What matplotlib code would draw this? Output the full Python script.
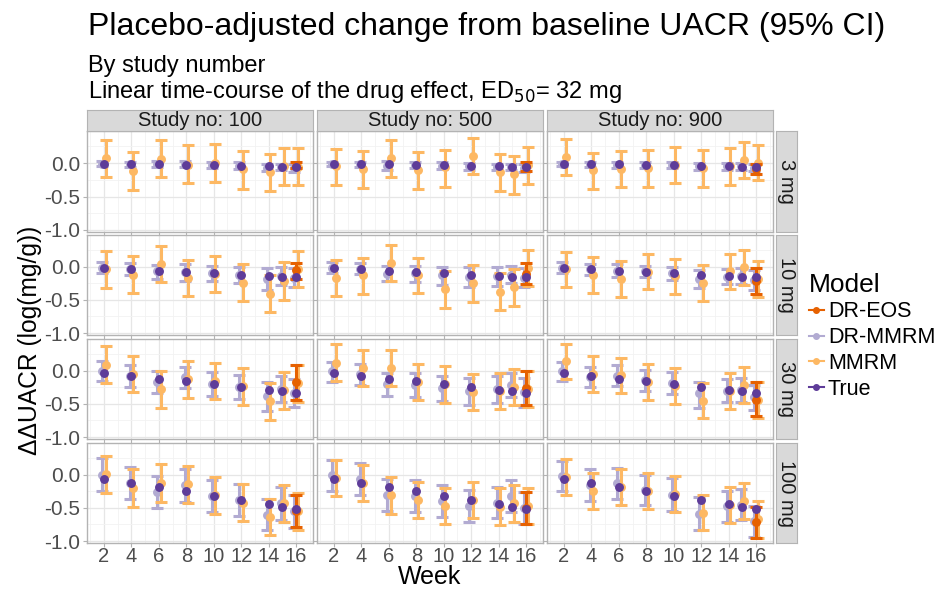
import numpy as np
import matplotlib
matplotlib.use("Agg")
import matplotlib.pyplot as plt
from matplotlib.lines import Line2D

plt.rcParams['font.family'] = ['Liberation Sans', 'DejaVu Sans']

# ---- data ----
weeks = [2, 4, 6, 8, 10, 12, 14, 15, 16]
studies = ["100", "500", "900"]
doses = ["3 mg", "10 mg", "30 mg", "100 mg"]

true_vals = {
    "3 mg":   [-0.01, -0.015, -0.02, -0.03, -0.035, -0.04, -0.05, -0.055, -0.06],
    "10 mg":  [-0.02, -0.04, -0.06, -0.08, -0.10, -0.12, -0.14, -0.15, -0.16],
    "30 mg":  [-0.04, -0.08, -0.12, -0.16, -0.20, -0.25, -0.29, -0.31, -0.33],
    "100 mg": [-0.06, -0.13, -0.19, -0.25, -0.32, -0.38, -0.44, -0.48, -0.51],
}

# MMRM: estimate / lower / upper, one list per study (100, 500, 900)
mmrm_est = {
    "3 mg": [[0.07, -0.12, 0.065, -0.03, 0.0, -0.09, -0.14, -0.045, -0.055],
             [-0.05, -0.095, 0.075, -0.10, -0.065, 0.10, -0.13, -0.17, -0.035],
             [0.085, -0.11, -0.09, -0.075, -0.025, -0.075, -0.05, 0.04, 0.005]],
    "10 mg": [[-0.04, -0.12, 0.045, -0.165, -0.105, -0.24, -0.41, -0.21, -0.035],
              [-0.165, -0.13, 0.06, -0.13, -0.34, -0.25, -0.38, -0.31, -0.015],
              [-0.035, -0.12, -0.19, -0.075, -0.145, -0.25, -0.065, -0.005, -0.18]],
    "30 mg": [[0.085, -0.05, -0.28, -0.13, -0.16, -0.23, -0.46, -0.29, -0.19],
              [0.125, 0.04, 0.04, -0.165, -0.205, -0.32, -0.30, -0.24, -0.27],
              [0.145, -0.05, -0.07, -0.17, -0.23, -0.45, -0.30, -0.21, -0.44]],
    "100 mg": [[0.005, -0.20, -0.125, -0.14, -0.31, -0.42, -0.63, -0.43, -0.55],
               [-0.045, -0.125, -0.31, -0.38, -0.47, -0.38, -0.48, -0.43, -0.47],
               [-0.03, -0.24, -0.19, -0.24, -0.29, -0.57, -0.45, -0.39, -0.67]],
}
mmrm_lo = {
    "3 mg": [[-0.21, -0.40, -0.21, -0.29, -0.28, -0.38, -0.42, -0.32, -0.33],
             [-0.33, -0.37, -0.21, -0.38, -0.35, -0.17, -0.41, -0.46, -0.31],
             [-0.18, -0.39, -0.36, -0.35, -0.30, -0.35, -0.32, -0.23, -0.26]],
    "10 mg": [[-0.32, -0.40, -0.23, -0.44, -0.38, -0.52, -0.69, -0.50, -0.31],
              [-0.44, -0.41, -0.21, -0.40, -0.62, -0.53, -0.66, -0.59, -0.29],
              [-0.30, -0.39, -0.46, -0.34, -0.41, -0.52, -0.33, -0.27, -0.45]],
    "30 mg": [[-0.19, -0.32, -0.56, -0.41, -0.43, -0.51, -0.74, -0.57, -0.47],
              [-0.15, -0.235, -0.235, -0.44, -0.48, -0.59, -0.58, -0.51, -0.55],
              [-0.125, -0.32, -0.34, -0.44, -0.50, -0.72, -0.57, -0.48, -0.71]],
    "100 mg": [[-0.27, -0.48, -0.41, -0.42, -0.59, -0.70, -0.91, -0.71, -0.83],
               [-0.32, -0.40, -0.59, -0.66, -0.75, -0.66, -0.76, -0.71, -0.75],
               [-0.30, -0.51, -0.46, -0.51, -0.56, -0.84, -0.73, -0.67, -0.95]],
}
mmrm_hi = {
    "3 mg": [[0.34, 0.16, 0.34, 0.27, 0.28, 0.18, 0.13, 0.23, 0.22],
             [0.21, 0.18, 0.34, 0.17, 0.20, 0.37, 0.14, 0.10, 0.24],
             [0.36, 0.15, 0.18, 0.19, 0.24, 0.19, 0.22, 0.31, 0.27]],
    "10 mg": [[0.24, 0.16, 0.32, 0.11, 0.17, 0.045, -0.13, 0.07, 0.24],
              [0.11, 0.14, 0.33, 0.14, -0.07, 0.02, -0.10, -0.035, 0.26],
              [0.23, 0.15, 0.08, 0.19, 0.12, 0.02, 0.20, 0.26, 0.09]],
    "30 mg": [[0.37, 0.23, -0.005, 0.145, 0.12, 0.045, -0.185, -0.015, 0.09],
              [0.40, 0.31, 0.31, 0.11, 0.07, -0.045, -0.035, 0.03, 0.0],
              [0.41, 0.22, 0.20, 0.10, 0.04, -0.185, -0.03, 0.06, -0.17]],
    "100 mg": [[0.28, 0.08, 0.16, 0.14, -0.03, -0.14, -0.36, -0.15, -0.27],
               [0.23, 0.155, -0.035, -0.105, -0.195, -0.105, -0.205, -0.15, -0.195],
               [0.245, 0.03, 0.08, 0.03, -0.02, -0.30, -0.18, -0.125, -0.40]],
}

# DR-MMRM
drmmrm_est = {
    "3 mg": [[-0.01, -0.02, -0.02, -0.02, -0.03, -0.04, -0.07, -0.06, -0.07],
             [-0.015, -0.02, -0.04, -0.03, -0.04, -0.05, -0.06, -0.06, -0.07],
             [-0.01, -0.02, -0.03, -0.03, -0.03, -0.05, -0.05, -0.05, -0.07]],
    "10 mg": [[-0.015, -0.04, -0.065, -0.085, -0.10, -0.12, -0.19, -0.135, -0.165],
              [-0.015, -0.03, -0.105, -0.10, -0.12, -0.16, -0.145, -0.12, -0.165],
              [-0.015, -0.04, -0.06, -0.07, -0.095, -0.185, -0.15, -0.145, -0.20]],
    "30 mg": [[0.0, -0.08, -0.17, -0.10, -0.20, -0.245, -0.38, -0.275, -0.335],
              [-0.01, -0.05, -0.205, -0.215, -0.265, -0.31, -0.28, -0.215, -0.325],
              [-0.01, -0.095, -0.075, -0.145, -0.185, -0.34, -0.30, -0.285, -0.40]],
    "100 mg": [[0.0, -0.13, -0.26, -0.16, -0.32, -0.38, -0.60, -0.43, -0.55],
               [-0.005, -0.06, -0.31, -0.32, -0.40, -0.47, -0.42, -0.32, -0.50],
               [-0.02, -0.16, -0.13, -0.235, -0.30, -0.59, -0.47, -0.45, -0.70]],
}
drmmrm_lo = {
    "3 mg": [[-0.045, -0.06, -0.065, -0.065, -0.08, -0.09, -0.12, -0.11, -0.13],
             [-0.05, -0.06, -0.11, -0.07, -0.09, -0.10, -0.11, -0.11, -0.13],
             [-0.045, -0.055, -0.07, -0.07, -0.075, -0.10, -0.10, -0.10, -0.12]],
    "10 mg": [[-0.09, -0.13, -0.19, -0.22, -0.21, -0.24, -0.35, -0.27, -0.31],
              [-0.095, -0.115, -0.22, -0.23, -0.27, -0.31, -0.29, -0.25, -0.31],
              [-0.095, -0.125, -0.155, -0.16, -0.195, -0.32, -0.26, -0.26, -0.35]],
    "30 mg": [[-0.155, -0.245, -0.33, -0.26, -0.38, -0.43, -0.60, -0.47, -0.55],
              [-0.165, -0.215, -0.38, -0.39, -0.45, -0.51, -0.48, -0.39, -0.54],
              [-0.16, -0.25, -0.23, -0.30, -0.345, -0.56, -0.47, -0.47, -0.59]],
    "100 mg": [[-0.245, -0.37, -0.50, -0.41, -0.56, -0.62, -0.84, -0.68, -0.80],
               [-0.245, -0.30, -0.55, -0.56, -0.64, -0.71, -0.66, -0.56, -0.74],
               [-0.25, -0.40, -0.36, -0.46, -0.54, -0.83, -0.71, -0.68, -0.94]],
}
drmmrm_hi = {
    "3 mg": [[0.025, 0.02, 0.025, 0.025, 0.02, 0.01, -0.02, -0.01, -0.01],
             [0.02, 0.02, 0.025, 0.01, 0.01, 0.0, -0.01, -0.01, -0.01],
             [0.02, 0.015, 0.01, 0.01, 0.01, 0.0, 0.0, 0.0, -0.02]],
    "10 mg": [[0.075, 0.05, 0.025, 0.04, 0.015, 0.0, -0.025, 0.0, -0.025],
              [0.07, 0.055, 0.01, 0.015, -0.005, -0.005, -0.005, 0.015, -0.015],
              [0.07, 0.04, 0.035, 0.015, 0.0, -0.05, -0.03, -0.02, -0.05]],
    "30 mg": [[0.155, 0.08, 0.0, 0.055, -0.025, -0.06, -0.17, -0.085, -0.12],
              [0.14, 0.11, -0.03, -0.04, -0.075, -0.105, -0.08, -0.035, -0.115],
              [0.14, 0.06, 0.08, 0.01, -0.025, -0.175, -0.125, -0.105, -0.215]],
    "100 mg": [[0.25, 0.115, -0.02, 0.085, -0.075, -0.145, -0.36, -0.19, -0.30],
               [0.23, 0.175, -0.07, -0.075, -0.16, -0.225, -0.18, -0.08, -0.26],
               [0.215, 0.08, 0.11, 0.0, -0.055, -0.34, -0.24, -0.21, -0.47]],
}

# DR-EOS: only at end of study (week 16), per study
dreos_est = {"3 mg": [-0.04, -0.05, -0.09], "10 mg": [-0.055, -0.105, -0.22],
             "30 mg": [-0.175, -0.26, -0.44], "100 mg": [-0.54, -0.50, -0.715]}
dreos_lo = {"3 mg": [-0.08, -0.12, -0.17], "10 mg": [-0.19, -0.26, -0.41],
            "30 mg": [-0.44, -0.52, -0.69], "100 mg": [-0.79, -0.74, -0.95]}
dreos_hi = {"3 mg": [0.01, 0.015, -0.015], "10 mg": [0.06, 0.055, -0.025],
            "30 mg": [0.09, 0.0, -0.175], "100 mg": [-0.30, -0.26, -0.48]}

col_eos = "#E66101"
col_drm = "#B2ABD2"
col_mmrm = "#FDB863"
col_true = "#5E3C99"

W, H = 940, 590
fig = plt.figure(figsize=(W / 100, H / 100), dpi=100)


def rect(x0, y0, x1, y1):
    return [x0 / W, 1 - y1 / H, (x1 - x0) / W, (y1 - y0) / H]


cols_px = [(87, 313), (317, 543), (547, 773)]
rows_px = [(131, 232), (235, 335), (339, 439), (443, 543)]
wk = np.array(weeks, dtype=float)


def ebar(ax, x, est, lo, hi, color, z):
    est = np.asarray(est); lo = np.asarray(lo); hi = np.asarray(hi)
    ax.errorbar(x, est, yerr=[est - lo, hi - est], fmt='o', color=color,
                ms=5.4, capsize=4, elinewidth=2.2, capthick=2.2, zorder=z)


for r, dose in enumerate(doses):
    for c, st in enumerate(studies):
        ax = fig.add_axes(rect(cols_px[c][0], rows_px[r][0], cols_px[c][1], rows_px[r][1]))
        ebar(ax, wk - 0.12, drmmrm_est[dose][c], drmmrm_lo[dose][c], drmmrm_hi[dose][c], col_drm, 3)
        ebar(ax, wk + 0.12, mmrm_est[dose][c], mmrm_lo[dose][c], mmrm_hi[dose][c], col_mmrm, 4)
        ebar(ax, [16.0], [dreos_est[dose][c]], [dreos_lo[dose][c]], [dreos_hi[dose][c]], col_eos, 5)
        ax.plot(wk, true_vals[dose], 'o', color=col_true, ms=5.4, zorder=6)

        ax.set_xlim(0.76, 17.24)
        ax.set_ylim(-1.03, 0.48)
        ax.set_xticks(range(2, 17, 2))
        ax.set_xticks(range(1, 18, 2), minor=True)
        ax.set_yticks([0.0, -0.5, -1.0])
        ax.set_yticks([0.25, -0.25, -0.75], minor=True)
        ax.grid(True, which='major', color='#E6E6E6', lw=0.9, zorder=0)
        ax.grid(True, which='minor', color='#F2F2F2', lw=0.6, zorder=0)
        ax.set_axisbelow(True)
        for s in ax.spines.values():
            s.set_color('#B3B3B3')
            s.set_linewidth(1.0)
        ax.tick_params(which='minor', length=0)
        ax.tick_params(which='major', length=3, color='#B3B3B3', labelsize=15,
                       labelcolor='#4D4D4D', pad=2)
        if c == 0:
            ax.set_yticklabels(["0.0", "-0.5", "-1.0"])
        else:
            ax.tick_params(axis='y', labelleft=False)
        if r == len(doses) - 1:
            ax.set_xticklabels([str(w) for w in range(2, 17, 2)])
            ax.tick_params(axis='x', pad=0, labelsize=14.5)
        else:
            ax.tick_params(axis='x', labelbottom=False)

        if r == 0:
            sax = fig.add_axes(rect(cols_px[c][0], 110, cols_px[c][1], 131))
            sax.set_facecolor('#D9D9D9')
            sax.set_xticks([]); sax.set_yticks([])
            for s in sax.spines.values():
                s.set_color('#B3B3B3')
            sax.text(0.5, 0.5, "Study no: " + st, ha='center', va='center',
                     fontsize=14.5, color='#1A1A1A', transform=sax.transAxes)
        if c == len(studies) - 1:
            sax = fig.add_axes(rect(776, rows_px[r][0], 797, rows_px[r][1]))
            sax.set_facecolor('#D9D9D9')
            sax.set_xticks([]); sax.set_yticks([])
            for s in sax.spines.values():
                s.set_color('#B3B3B3')
            sax.text(0.5, 0.5, dose, ha='center', va='center', rotation=-90,
                     fontsize=14.5, color='#1A1A1A', transform=sax.transAxes)

fig.text(88 / W, 1 - 27 / H, "Placebo-adjusted change from baseline UACR (95% CI)",
         fontsize=23, ha='left', va='center')
fig.text(88 / W, 1 - 66 / H, "By study number", fontsize=17, ha='left', va='center')
fig.text(88 / W, 1 - 92 / H, "Linear time-course of the drug effect, ED$_{50}$= 32 mg",
         fontsize=17, ha='left', va='center')
fig.text(430 / W, 1 - 577 / H, "Week", fontsize=18, ha='center', va='center')
fig.text(30 / W, 1 - 340 / H, "ΔΔUACR (log(mg/g))", fontsize=17.7, ha='center',
         va='center', rotation=90)

labels = ["DR-EOS", "DR-MMRM", "MMRM", "True"]
colors = [col_eos, col_drm, col_mmrm, col_true]
handles = [Line2D([0], [0], color=cl, marker='o', ms=4, lw=1.5) for cl in colors]
leg = fig.legend(handles, labels, title="Model", loc='upper left',
                 bbox_to_anchor=(800 / W, 1 - 264 / H), frameon=False,
                 fontsize=15.5, title_fontsize=19, handlelength=0.7,
                 handletextpad=0.2, labelspacing=0.22, borderaxespad=0)
leg._legend_box.align = 'left'

fig.savefig("out.png", dpi=100)
